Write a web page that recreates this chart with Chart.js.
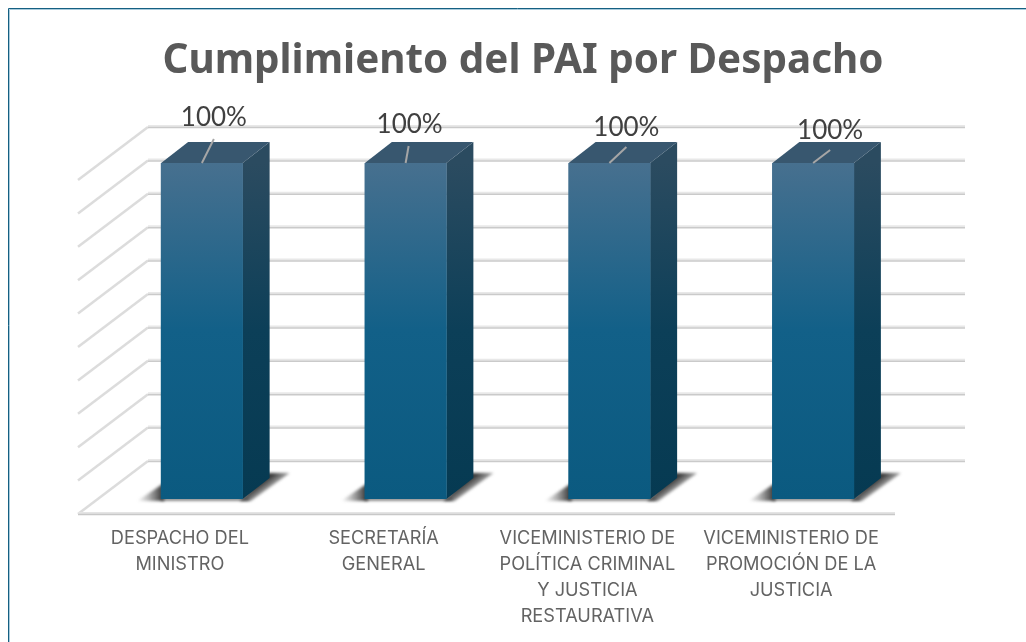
<!DOCTYPE html>
<html><head><meta charset="utf-8">
<style>html,body{margin:0;padding:0;background:#fff;overflow:hidden}canvas{display:block}</style>
<script src="https://cdn.jsdelivr.net/npm/chart.js@4"></script>
</head><body>
<canvas id="c" width="1026" height="642"></canvas>
<script>
const categories = [
  ["DESPACHO DEL","MINISTRO"],
  ["SECRETARÍA","GENERAL"],
  ["VICEMINISTERIO DE","POLÍTICA CRIMINAL","Y JUSTICIA","RESTAURATIVA"],
  ["VICEMINISTERIO DE","PROMOCIÓN DE LA","JUSTICIA"]
];
const values = [100, 100, 100, 100];
const titleText = "Cumplimiento del PAI por Despacho";
const labelCenters = [[12,-45],[4,-38],[17,-35],[17,-32]];
const leaderEnds = [[12,-24],[3,-17],[17,-16],[17,-13]];

const DEPTH = {x:27,y:21};       // bar depth
const WALL = {left:148,right:965,floorRight:895,dx:70,dy:53,bottom:461,top:127};
const FONT = '"Noto Sans"';
const LABEL_FONT = 'Inter';

const box3d = {
  id:'box3d',
  beforeDraw(chart){
    const {ctx}=chart;
    ctx.save();
    ctx.fillStyle='#fff';ctx.fillRect(0,0,1026,642);
    ctx.strokeStyle='#a9cbdc';ctx.lineWidth=1;
    ctx.beginPath();ctx.moveTo(9.5,642);ctx.lineTo(9.5,9.5);ctx.lineTo(1026,9.5);ctx.stroke();
    ctx.strokeStyle='#156082';
    ctx.beginPath();ctx.moveTo(8.5,642);ctx.lineTo(8.5,8.5);ctx.lineTo(1026,8.5);ctx.stroke();
    ctx.restore();
  },
  beforeDatasetsDraw(chart){
    const {ctx,scales:{y}}=chart;
    const y0=y.getPixelForValue(0), y100=y.getPixelForValue(100);
    const k=(WALL.bottom-WALL.top)/(y0-y100);
    ctx.save();
    ctx.lineCap='butt';
    y.ticks.forEach(t=>{
      const wy=WALL.bottom-(y0-y.getPixelForValue(t.value))*k;
      ctx.strokeStyle='#dcdcdc';ctx.lineWidth=2.5;
      ctx.beginPath();ctx.moveTo(WALL.left,wy);ctx.lineTo(WALL.left-WALL.dx,wy+WALL.dy);ctx.stroke();
      ctx.strokeStyle='#e8e8e8';ctx.lineWidth=2;
      ctx.beginPath();ctx.moveTo(WALL.left,wy-1);ctx.lineTo(WALL.right,wy-1);ctx.stroke();
      ctx.strokeStyle='#cacaca';ctx.lineWidth=1.5;
      ctx.beginPath();ctx.moveTo(WALL.left,wy+0.5);ctx.lineTo(WALL.right,wy+0.5);ctx.stroke();
    });
    const fy=WALL.bottom+WALL.dy;
    ctx.strokeStyle='#e4e4e4';ctx.lineWidth=2;
    ctx.beginPath();ctx.moveTo(WALL.left-WALL.dx,fy-1);ctx.lineTo(WALL.floorRight,fy-1);ctx.stroke();
    ctx.strokeStyle='#c8c8c8';ctx.lineWidth=1.5;
    ctx.beginPath();ctx.moveTo(WALL.left-WALL.dx,fy+0.5);ctx.lineTo(WALL.floorRight,fy+0.5);ctx.stroke();

    const meta=chart.getDatasetMeta(0);
    meta.data.forEach(bar=>{
      const L=bar.x-bar.width/2,R=bar.x+bar.width/2,T=bar.y,B=bar.base;
      ctx.save();
      ctx.filter='blur(1.5px)';
      let g=ctx.createLinearGradient(L-24,0,L+1,0);
      g.addColorStop(0,'rgba(70,70,70,0)');g.addColorStop(.4,'rgba(70,70,70,.35)');g.addColorStop(1,'rgba(50,50,50,.95)');
      ctx.fillStyle=g;
      ctx.beginPath();ctx.moveTo(L-24,B+2);ctx.lineTo(L+3,B+2);ctx.lineTo(L+3,B-16);ctx.closePath();ctx.fill();
      g=ctx.createLinearGradient(R+13,B-12,R+25,B+4);
      g.addColorStop(0,'rgba(45,45,45,.95)');g.addColorStop(1,'rgba(90,90,90,0)');
      ctx.fillStyle=g;
      ctx.beginPath();ctx.moveTo(R-3,B+2);ctx.lineTo(R+8,B+2);ctx.lineTo(R+47,B-26);ctx.lineTo(R+24,B-26);ctx.closePath();ctx.fill();
      ctx.fillStyle='rgba(70,70,70,.85)';
      ctx.fillRect(L,B-1,bar.width+6,2.5);
      ctx.restore();
      g=ctx.createLinearGradient(0,T,0,B);
      g.addColorStop(0,'#2b4b60');g.addColorStop(.5,'#0c3f58');g.addColorStop(1,'#063a52');
      ctx.fillStyle=g;
      ctx.beginPath();ctx.moveTo(R,T);ctx.lineTo(R+DEPTH.x,T-DEPTH.y);ctx.lineTo(R+DEPTH.x,B-DEPTH.y);ctx.lineTo(R,B);ctx.closePath();ctx.fill();
      ctx.fillStyle='#38576f';
      ctx.beginPath();ctx.moveTo(L,T);ctx.lineTo(L+DEPTH.x,T-DEPTH.y);ctx.lineTo(R+DEPTH.x,T-DEPTH.y);ctx.lineTo(R,T);ctx.closePath();ctx.fill();
    });
    ctx.restore();
  },
  afterDatasetsDraw(chart){
    const {ctx}=chart;
    const meta=chart.getDatasetMeta(0);
    ctx.save();
    meta.data.forEach((bar,i)=>{
      ctx.strokeStyle='#a6a6a6';ctx.lineWidth=2;
      ctx.beginPath();ctx.moveTo(bar.x,bar.y);ctx.lineTo(bar.x+leaderEnds[i][0],bar.y+leaderEnds[i][1]);ctx.stroke();
      ctx.fillStyle='#404040';
      ctx.font='26px Lato';ctx.textAlign='center';ctx.textBaseline='middle';
      ctx.fillText(values[i]+'%',bar.x+labelCenters[i][0],bar.y+labelCenters[i][1]);
    });
    ctx.restore();
  },
  afterLayout(chart){
    const tb=chart.titleBlock;
    if(tb){tb.left+=15.5;tb.right+=15.5;}
  }
};

new Chart(document.getElementById('c'),{
  type:'bar',
  data:{labels:categories,datasets:[{
    data:values,
    barThickness:81.5,
    backgroundColor(ctx){
      const a=ctx.chart.chartArea;
      if(!a)return '#125f87';
      const g=ctx.chart.ctx.createLinearGradient(0,a.top,0,a.bottom);
      g.addColorStop(0,'#47708f');g.addColorStop(.5,'#126088');g.addColorStop(1,'#0b5a80');
      return g;
    }
  }]},
  plugins:[box3d],
  options:{
    responsive:false,animation:false,
    layout:{padding:{left:100,right:111,top:0,bottom:0}},
    plugins:{
      legend:{display:false},tooltip:{enabled:false},
      title:{display:true,text:titleText,color:'#595959',
        font:{family:FONT,size:40.4,weight:'bold',lineHeight:1.2},
        padding:{top:37,bottom:77.5}}
    },
    scales:{
      x:{
        grid:{display:false,drawTicks:false},border:{display:false},
        afterFit(s){s.height=143;s.paddingLeft=0;s.paddingRight=0;},
        ticks:{color:'#636363',padding:27,labelOffset:-22,maxRotation:0,minRotation:0,autoSkip:false,
          font:{family:LABEL_FONT,size:18.2,lineHeight:26/18.2}}
      },
      y:{
        min:0,max:100,
        ticks:{display:false,stepSize:10},
        grid:{display:false,drawTicks:false},border:{display:false}
      }
    }
  }
});
</script>
</body></html>
